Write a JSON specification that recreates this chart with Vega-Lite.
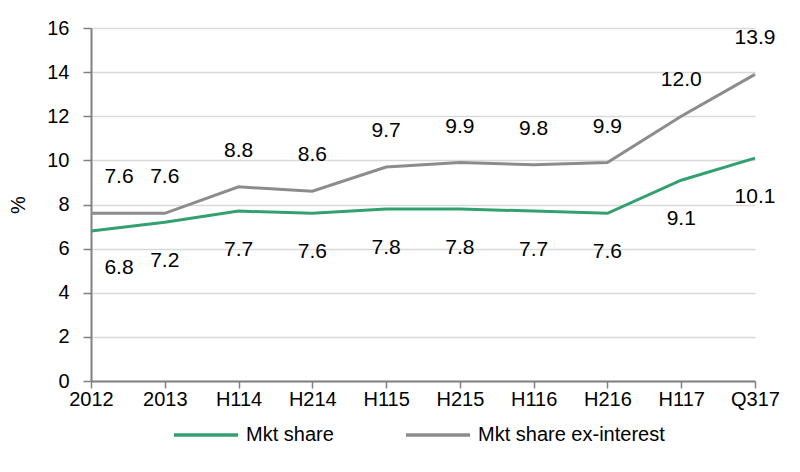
{
  "$schema": "https://vega.github.io/schema/vega-lite/v6.json",
  "width": 664,
  "height": 353,
  "autosize": {"type": "none"},
  "padding": {"left": 91, "top": 28, "right": 45, "bottom": 91},
  "background": "white",
  "config": {
    "view": {"stroke": null},
    "font": "Liberation Sans, Arial",
    "axis": {"labelFont": "Liberation Sans", "titleFont": "Liberation Sans"},
    "legend": {"labelFont": "Liberation Sans"}
  },
  "data": {
    "values": [
      {"period": "2012", "series": "Mkt share", "value": 6.8},
      {"period": "2013", "series": "Mkt share", "value": 7.2},
      {"period": "H114", "series": "Mkt share", "value": 7.7},
      {"period": "H214", "series": "Mkt share", "value": 7.6},
      {"period": "H115", "series": "Mkt share", "value": 7.8},
      {"period": "H215", "series": "Mkt share", "value": 7.8},
      {"period": "H116", "series": "Mkt share", "value": 7.7},
      {"period": "H216", "series": "Mkt share", "value": 7.6},
      {"period": "H117", "series": "Mkt share", "value": 9.1},
      {"period": "Q317", "series": "Mkt share", "value": 10.1},
      {"period": "2012", "series": "Mkt share ex-interest", "value": 7.6},
      {"period": "2013", "series": "Mkt share ex-interest", "value": 7.6},
      {"period": "H114", "series": "Mkt share ex-interest", "value": 8.8},
      {"period": "H214", "series": "Mkt share ex-interest", "value": 8.6},
      {"period": "H115", "series": "Mkt share ex-interest", "value": 9.7},
      {"period": "H215", "series": "Mkt share ex-interest", "value": 9.9},
      {"period": "H116", "series": "Mkt share ex-interest", "value": 9.8},
      {"period": "H216", "series": "Mkt share ex-interest", "value": 9.9},
      {"period": "H117", "series": "Mkt share ex-interest", "value": 12.0},
      {"period": "Q317", "series": "Mkt share ex-interest", "value": 13.9}
    ]
  },
  "encoding": {
    "x": {
      "field": "period", "type": "ordinal", "sort": null,
      "scale": {"type": "point", "padding": 0},
      "axis": {"title": null, "labelAngle": 0, "labelFontSize": 20, "labelColor": "#000", "domainColor": "#808080", "domainWidth": 2, "tickColor": "#808080", "tickSize": 7, "tickWidth": 1.5, "labelPadding": 1, "grid": false}
    },
    "y": {
      "field": "value", "type": "quantitative",
      "scale": {"domain": [0, 16], "nice": false},
      "axis": {"title": "%", "titleFontSize": 20, "titleFontWeight": "normal", "titleColor": "#000", "titlePadding": 18, "values": [0, 2, 4, 6, 8, 10, 12, 14, 16], "labelFontSize": 20, "labelColor": "#000", "domainColor": "#808080", "domainWidth": 2, "tickColor": "#808080", "tickSize": 8, "tickWidth": 1.5, "labelPadding": 14, "gridColor": "#d9d9d9", "gridWidth": 1.5}
    },
    "color": {
      "field": "series", "type": "nominal",
      "scale": {"domain": ["Mkt share", "Mkt share ex-interest"], "range": ["#33a06f", "#8c8c8c"]},
      "legend": {"title": null, "orient": "none", "legendX": 81, "legendY": 373, "direction": "horizontal", "symbolType": "stroke", "symbolSize": 4096, "symbolStrokeWidth": 3.5, "labelFontSize": 20, "labelColor": "#000", "labelLimit": 400, "columnPadding": 65, "labelOffset": 6}
    }
  },
  "layer": [
    {"mark": {"type": "line", "strokeWidth": 3}},
    {
      "transform": [{"filter": "datum.series == 'Mkt share ex-interest' && datum.period != '2012'"}],
      "mark": {"type": "text", "dy": -36, "fontSize": 21, "color": "#000"},
      "encoding": {"text": {"field": "value", "type": "quantitative", "format": ".1f"}, "color": {"value": "#000"}}
    },
    {
      "transform": [{"filter": "datum.series == 'Mkt share ex-interest' && datum.period == '2012'"}],
      "mark": {"type": "text", "dy": -36, "dx": 28, "fontSize": 21, "color": "#000"},
      "encoding": {"text": {"field": "value", "type": "quantitative", "format": ".1f"}, "color": {"value": "#000"}}
    },
    {
      "transform": [{"filter": "datum.series == 'Mkt share' && datum.period != '2012'"}],
      "mark": {"type": "text", "dy": 39, "fontSize": 21, "color": "#000"},
      "encoding": {"text": {"field": "value", "type": "quantitative", "format": ".1f"}, "color": {"value": "#000"}}
    },
    {
      "transform": [{"filter": "datum.series == 'Mkt share' && datum.period == '2012'"}],
      "mark": {"type": "text", "dy": 37, "dx": 28, "fontSize": 21, "color": "#000"},
      "encoding": {"text": {"field": "value", "type": "quantitative", "format": ".1f"}, "color": {"value": "#000"}}
    }
  ]
}
